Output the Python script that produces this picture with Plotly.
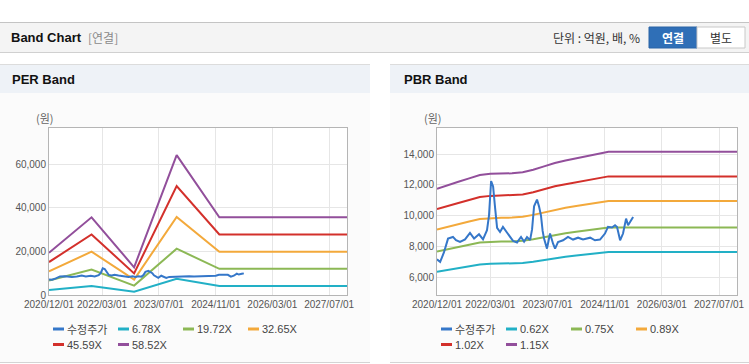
import plotly.graph_objects as go

# ---------------- data ----------------
price_dates = [
    "2020-12-01", "2020-12-28", "2021-01-29", "2021-03-05", "2021-04-16", "2021-05-12",
    "2021-06-15", "2021-07-28", "2021-09-08", "2021-10-13", "2021-11-24", "2021-12-28",
    "2022-01-31", "2022-02-17", "2022-03-07", "2022-03-24", "2022-04-10", "2022-04-27",
    "2022-05-22", "2022-06-16", "2022-07-20", "2022-08-15", "2022-09-10", "2022-10-14",
    "2022-11-17", "2022-12-13", "2023-01-07", "2023-02-02", "2023-02-19", "2023-03-08",
    "2023-04-02", "2023-04-19", "2023-05-06", "2023-05-20", "2023-06-01", "2023-06-26",
    "2023-07-22", "2023-08-17", "2023-09-03", "2023-09-28", "2023-11-10", "2023-12-22",
    "2024-02-03", "2024-03-17", "2024-04-28", "2024-06-28", "2024-08-08", "2024-09-20",
    "2024-11-01", "2024-11-27", "2024-12-31", "2025-01-26", "2025-02-12", "2025-03-10",
    "2025-04-04", "2025-04-30", "2025-05-17", "2025-06-12", "2025-06-29",
]
price_values = [
    7150, 6980, 7600, 8500, 8610, 8400,
    8280, 8450, 8870, 8500, 8780, 8450,
    9050, 10000, 12250, 11900, 10500, 9200,
    8930, 9260, 8900, 8600, 8350, 8250,
    8610, 8300, 8600, 8400, 9100, 10600,
    11040, 10600, 10000, 9000, 8500, 7850,
    8830, 8170, 7850, 8280, 8390, 8610,
    8440, 8560, 8440, 8560, 8390, 8440,
    8830, 9260, 9220, 9370, 9260, 8390,
    8830, 9800, 9370, 9700, 9910,
]

# PER band
per_dates = ["2020-12-01", "2021-12-01", "2022-12-01", "2023-12-01", "2024-12-01", "2027-12-01"]
per_678 = [2240, 4120, 1470, 7420, 4120, 4120]
per_1972 = [6600, 11700, 4300, 21200, 11990, 11990]
per_3265 = [10810, 19850, 7090, 35750, 19850, 19850]
per_4559 = [15090, 27720, 9890, 49920, 27720, 27720]
per_5852 = [19370, 35580, 12700, 64080, 35580, 35580]

# PBR band
pbr_dates = [
    "2020-12-01", "2021-03-01", "2021-06-01", "2021-09-01", "2021-12-01", "2022-03-01",
    "2022-06-01", "2022-09-01", "2022-12-01", "2023-03-01", "2023-06-01", "2023-09-01",
    "2023-12-01", "2024-03-01", "2024-06-01", "2024-09-01", "2024-12-01", "2027-12-01",
]
pbr_062 = [6335, 6464, 6577, 6696, 6815, 6858, 6868, 6874, 6912, 6998, 7117, 7235,
           7321, 7397, 7467, 7559, 7629, 7629]
pbr_075 = [7663, 7820, 7956, 8100, 8243, 8296, 8309, 8315, 8361, 8465, 8609, 8752,
           8856, 8948, 9033, 9143, 9228, 9228]
pbr_089 = [9093, 9279, 9442, 9612, 9782, 9844, 9860, 9867, 9922, 10045, 10216, 10386,
           10510, 10618, 10719, 10850, 10951, 10951]
pbr_102 = [10422, 10635, 10821, 11016, 11211, 11282, 11300, 11309, 11371, 11513, 11708, 11903,
           12045, 12169, 12284, 12435, 12550, 12550]
pbr_115 = [11750, 11990, 12200, 12420, 12640, 12720, 12740, 12750, 12820, 12980, 13200, 13420,
           13580, 13720, 13850, 14020, 14150, 14150]

price_name = "수정주가"
per_names = ["6.78X", "19.72X", "32.65X", "45.59X", "58.52X"]
pbr_names = ["0.62X", "0.75X", "0.89X", "1.02X", "1.15X"]

x_tick_vals = ["2020-12-01", "2022-03-01", "2023-07-01", "2024-11-01", "2026-03-01", "2027-07-01"]
x_tick_text = ["2020/12/01", "2022/03/01", "2023/07/01", "2024/11/01", "2026/03/01", "2027/07/01"]
x_range = ["2020-12-01", "2027-12-01"]
per_y_ticks = [0, 20000, 40000, 60000]
pbr_y_ticks = [6000, 8000, 10000, 12000, 14000]

colors = ["#3577c9", "#22b0c6", "#8cb855", "#f3a93b", "#d3302b", "#924f9b"]

# ---------------- layout helpers ----------------
W, H = 749, 364
def fx(x):
    return x / W
def fy(y):
    return 1 - y / H

FONT = "Liberation Sans, Noto Sans CJK KR, sans-serif"
KFONT = "Noto Sans CJK KR, Liberation Sans, sans-serif"

fig = go.Figure()

def add_series(xa, ya, band_dates, bands, names):
    for vals, name, c in zip(bands, names, colors[1:]):
        fig.add_trace(go.Scatter(x=band_dates, y=vals, name=name, mode="lines",
                                 line=dict(color=c, width=2), xaxis=xa, yaxis=ya,
                                 hoverinfo="skip"))
    fig.add_trace(go.Scatter(x=price_dates, y=price_values, name=price_name, mode="lines",
                             line=dict(color=colors[0], width=2), xaxis=xa, yaxis=ya,
                             hoverinfo="skip"))

add_series("x", "y", per_dates, [per_678, per_1972, per_3265, per_4559, per_5852], per_names)
add_series("x2", "y2", pbr_dates, [pbr_062, pbr_075, pbr_089, pbr_102, pbr_115], pbr_names)

plots = [(49, 347), (437, 737)]
ptop, pbot = 128, 295

axis_common = dict(showline=True, mirror=True, linecolor="#b5b5b5", linewidth=1,
                   gridcolor="#e6e6e6", gridwidth=1, zeroline=False, ticks="",
                   automargin=False,
                   tickfont=dict(family=FONT, size=10, color="#555555"), fixedrange=True)

fig.update_layout(
    width=W, height=H, autosize=False,
    margin=dict(l=0, r=0, t=0, b=0, pad=0, autoexpand=False),
    paper_bgcolor="#ffffff", plot_bgcolor="rgba(0,0,0,0)",
    showlegend=False, hovermode=False,
    xaxis=dict(domain=[fx(plots[0][0]), fx(plots[0][1])], anchor="y", type="date",
               range=x_range, tickmode="array", tickvals=x_tick_vals, ticktext=x_tick_text,
               tickangle=0, **axis_common),
    yaxis=dict(domain=[fy(pbot), fy(ptop)], anchor="x", range=[0, 76500],
               tickmode="array", tickvals=per_y_ticks, tickformat=",d", **axis_common),
    xaxis2=dict(domain=[fx(plots[1][0]), fx(plots[1][1])], anchor="y2", type="date",
                range=x_range, tickmode="array", tickvals=x_tick_vals, ticktext=x_tick_text,
                tickangle=0, **axis_common),
    yaxis2=dict(domain=[fy(pbot), fy(ptop)], anchor="x2", range=[4830, 15700],
                tickmode="array", tickvals=pbr_y_ticks, tickformat=",d", **axis_common),
)

shapes = []
annots = []

def rect(x0, y0, x1, y1, fill, line=None):
    shapes.append(dict(type="rect", xref="paper", yref="paper", x0=fx(x0), x1=fx(x1),
                       y0=fy(y1), y1=fy(y0), fillcolor=fill, layer="below",
                       line=dict(width=1 if line else 0, color=line or fill)))

def hline(x0, x1, y, color, width=1):
    shapes.append(dict(type="line", xref="paper", yref="paper", x0=fx(x0), x1=fx(x1),
                       y0=fy(y), y1=fy(y), line=dict(color=color, width=width), layer="below"))

def text(x, y, s, size=12, color="#333333", bold=False, xanchor="left", family=KFONT):
    if bold:
        s = "<b>" + s + "</b>"
    annots.append(dict(xref="paper", yref="paper", x=fx(x), y=fy(y), text=s, showarrow=False,
                       xanchor=xanchor, yanchor="middle", borderpad=0, xshift=0,
                       font=dict(size=size, color=color, family=family)))

# header bar
rect(0, 22, 749, 52, "#f4f4f4")
hline(0, 749, 22.5, "#c4c4c4")
hline(0, 749, 52.5, "#d0d0d0")
text(10, 38, "Band Chart", size=13, color="#111111", bold=True, family=FONT)
text(87, 38, "[연결]", size=12, color="#8a8a8a")
text(641, 38, "단위 : 억원, 배, %", size=12, color="#333333", xanchor="right")
rect(649, 27, 697, 48, "#2f6fb7", "#2a64a6")
rect(697, 27, 745, 48, "#ffffff", "#c8c8c8")
text(673, 38, "연결", size=12, color="#ffffff", bold=True, xanchor="center")
text(721, 38, "별도", size=12, color="#333333", xanchor="center")

# panels
panels = [(0, 370, "PER Band", 11), (390, 749, "PBR Band", 403)]
for (x0, x1, title, tx) in panels:
    rect(x0, 93, x1, 362, "#fbfbfb")
    rect(x0, 64, x1, 93, "#eef2f7")
    hline(x0, x1, 64.5, "#dcdcdc")
    hline(x0, x1, 362.5, "#d4d4d4")
    text(tx, 79, title, size=13, color="#111111", bold=True, family=FONT)

for (pl, pr) in plots:
    rect(pl, ptop, pr, pbot, "#ffffff")
    text(pl - 4, 118, "(원)", size=11, color="#666666", xanchor="center")

# legends
legend_sets = [([price_name] + per_names, plots[0][0]), ([price_name] + pbr_names, plots[1][0])]
for names, pl in legend_sets:
    for i, (name, c) in enumerate(zip(names, colors)):
        row, col = divmod(i, 4)
        x0 = pl + 4 + col * 65
        y = 329 + row * 15.5
        shapes.append(dict(type="line", xref="paper", yref="paper", x0=fx(x0), x1=fx(x0 + 11),
                           y0=fy(y), y1=fy(y), line=dict(color=c, width=3)))
        text(x0 + 13, y, name, size=11, color="#444444", family=KFONT if i == 0 else FONT)

fig.update_layout(shapes=shapes, annotations=annots)

fig.write_html("out.html", config={"displayModeBar": False, "staticPlot": True},
               post_script="document.body.style.margin='0';")
